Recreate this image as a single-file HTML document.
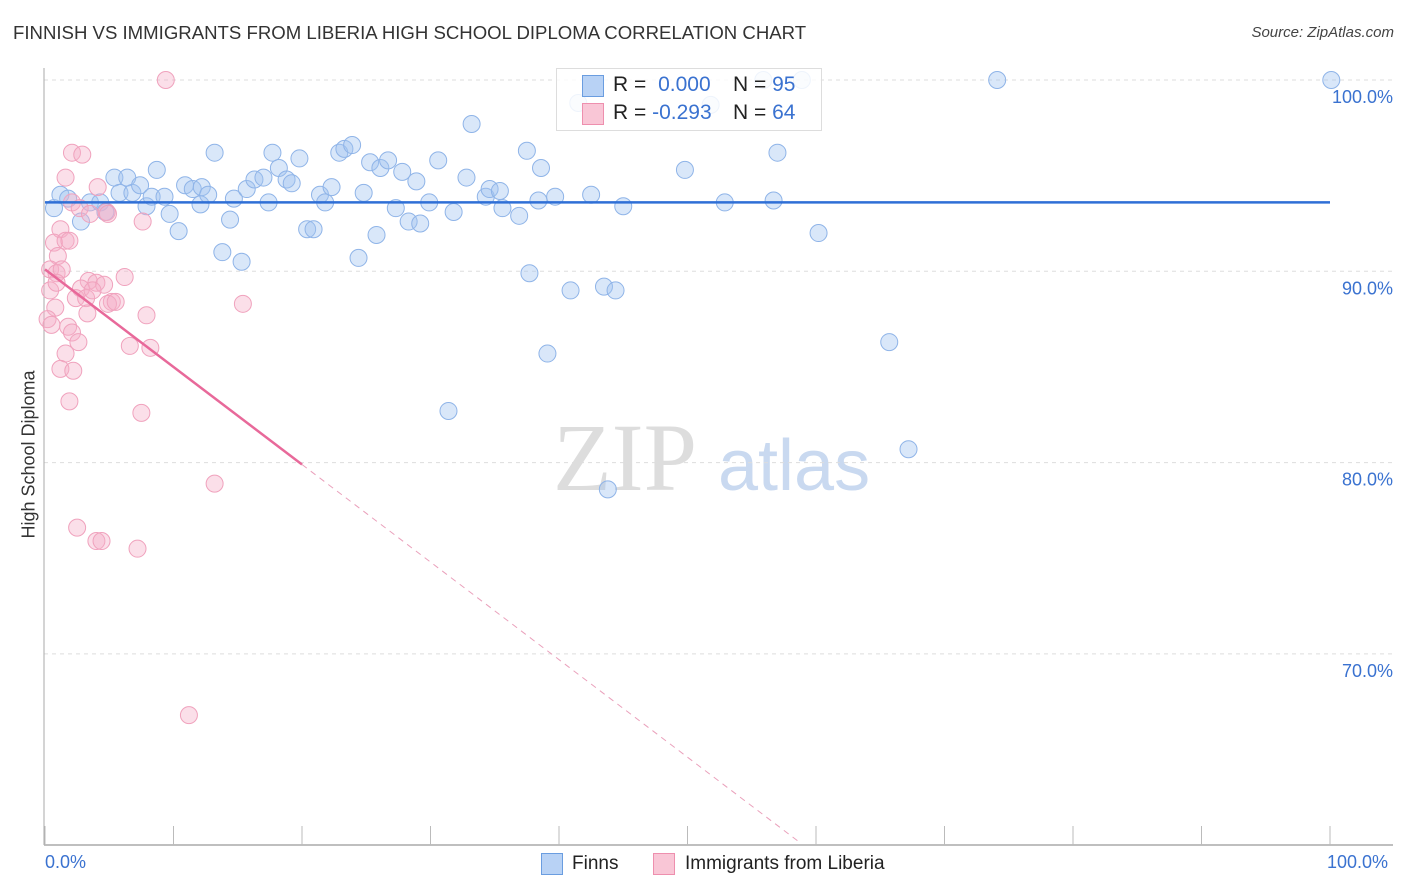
<!DOCTYPE html>
<html><head><meta charset="utf-8"><style>
body{margin:0;background:#fff;font-family:"Liberation Sans",sans-serif;}
#wrap{position:relative;width:1406px;height:892px;overflow:hidden;}
.t{position:absolute;white-space:nowrap;}
</style></head><body>
<div id="wrap">
<div class="t" style="left:13px;top:22px;font-size:18.6px;color:#333;">FINNISH VS IMMIGRANTS FROM LIBERIA HIGH SCHOOL DIPLOMA CORRELATION CHART</div>
<div class="t" style="right:12px;top:24px;font-size:15px;color:#444;font-style:italic;">Source: ZipAtlas.com</div>
<svg id="plot" width="1406" height="892" style="position:absolute;left:0;top:0">
<text x="553" y="490" font-family="Liberation Serif,serif" font-size="96" fill="#ddd">ZIP</text>
<text x="718" y="490" font-family="Liberation Sans,sans-serif" font-size="72" fill="#c9d9f0">atlas</text>
</svg>
<div style="position:absolute;left:556px;top:68px;width:264px;height:61px;border:1px solid #ddd;background:rgba(255,255,255,0.85);"></div>
<div style="position:absolute;left:582px;top:75px;width:20px;height:20px;background:#b8d2f5;border:1px solid #6a9de0;"></div>
<div style="position:absolute;left:582px;top:103px;width:20px;height:20px;background:#f9c6d6;border:1px solid #ee8fae;"></div>
<div class="t" style="left:613px;top:73px;font-size:21px;color:#222;">R = <span style="color:#3a72d0;margin-left:6px">0.000</span></div>
<div class="t" style="left:733px;top:73px;font-size:21px;color:#222;">N = <span style="color:#3a72d0">95</span></div>
<div class="t" style="left:613px;top:101px;font-size:21px;color:#222;">R = <span style="color:#3a72d0">-0.293</span></div>
<div class="t" style="left:733px;top:101px;font-size:21px;color:#222;">N = <span style="color:#3a72d0">64</span></div>
<div class="t" style="left:-55px;top:444px;font-size:18px;color:#333;transform:rotate(-90deg);">High School Diploma</div>
<div class="t" style="left:45px;top:852px;font-size:18px;color:#3a72d0;">0.0%</div>
<div class="t" style="left:1327px;top:852px;font-size:18px;color:#3a72d0;">100.0%</div>
<div style="position:absolute;left:541px;top:853px;width:20px;height:20px;background:#b8d2f5;border:1px solid #6a9de0;"></div>
<div class="t" style="left:572px;top:853px;font-size:19px;color:#222;">Finns</div>
<div style="position:absolute;left:653px;top:853px;width:20px;height:20px;background:#f9c6d6;border:1px solid #ee8fae;"></div>
<div class="t" style="left:685px;top:853px;font-size:19px;color:#222;">Immigrants from Liberia</div>
</div>
<script>
const yTicks=[100,90,80,70];
const yTickLabels=["100.0%","90.0%","80.0%","70.0%"];
const xTicks=[0,10,20,30,40,50,60,70,80,90,100];
const finnsX=[0.7,1.2,1.8,2.8,3.5,4.3,4.7,5.4,5.8,6.4,6.8,7.4,7.9,8.3,8.7,9.3,9.7,10.4,10.9,11.5,12.1,12.2,12.7,13.2,13.8,14.4,14.7,15.3,15.7,16.3,17.0,17.4,17.7,18.2,18.8,19.2,19.8,20.4,20.9,21.4,21.8,22.3,22.9,23.3,23.9,24.4,24.8,25.3,26.1,26.7,25.8,27.3,27.8,28.3,28.9,29.2,29.9,30.6,31.4,31.8,32.8,33.2,34.3,34.6,35.4,35.6,36.9,37.5,37.7,38.4,38.6,39.1,39.7,40.9,41.5,42.5,43.5,43.8,44.4,45.0,49.8,51.8,52.9,55.9,56.7,57.0,58.9,60.2,65.7,67.2,74.1,100.1];
const finnsY=[93.3,94.0,93.8,92.6,93.6,93.6,93.1,94.9,94.1,94.9,94.1,94.5,93.4,93.9,95.3,93.9,93.0,92.1,94.5,94.3,93.5,94.4,94.0,96.2,91.0,92.7,93.8,90.5,94.3,94.8,94.9,93.6,96.2,95.4,94.8,94.6,95.9,92.2,92.2,94.0,93.6,94.4,96.2,96.4,96.6,90.7,94.1,95.7,95.4,95.8,91.9,93.3,95.2,92.6,94.7,92.5,93.6,95.8,82.7,93.1,94.9,97.7,93.9,94.3,94.2,93.3,92.9,96.3,89.9,93.7,95.4,85.7,93.9,89.0,98.8,94.0,89.2,78.6,89.0,93.4,95.3,98.7,93.6,100,93.7,96.2,100,92.0,86.3,80.7,100,100];
const libX=[9.4,2.1,2.9,1.6,4.1,2.1,2.7,3.5,4.8,7.6,1.2,0.7,1.6,1.9,1.0,0.4,0.9,1.3,3.4,4.0,6.2,4.6,2.8,2.4,3.2,3.7,5.2,4.9,5.5,15.4,0.8,3.3,0.2,0.5,1.8,7.9,2.1,2.6,1.6,6.6,8.2,1.2,2.2,1.9,7.5,13.2,2.5,4.0,4.4,7.2,11.2,0.4,0.9,4.9];
const libY=[100,96.2,96.1,94.9,94.4,93.6,93.3,93.0,93.1,92.6,92.2,91.5,91.6,91.6,90.8,90.1,89.9,90.1,89.5,89.4,89.7,89.3,89.1,88.6,88.6,89.0,88.4,88.3,88.4,88.3,88.1,87.8,87.5,87.2,87.1,87.7,86.8,86.3,85.7,86.1,86.0,84.9,84.8,83.2,82.6,78.9,76.6,75.9,75.9,75.5,66.8,89.0,89.4,93.0];
const finnsFit=[93.6,93.6];
const libFit=[90.1,-0.51];
const svg=document.getElementById('plot');
const NS='http://www.w3.org/2000/svg';
const X0=45,X1=1330,Y100=80,PPU=19.13;
function xs(v){return X0+(X1-X0)*v/100;}
function ys(v){return Y100+(100-v)*PPU;}
function mk(tag,attrs){const e=document.createElementNS(NS,tag);for(const k in attrs)e.setAttribute(k,attrs[k]);svg.appendChild(e);return e;}
yTicks.forEach((t,i)=>{
 const g=mk('line',{x1:44,x2:1393,y1:ys(t),y2:ys(t),stroke:'#ddd','stroke-dasharray':'4,4'});
 
 
 const l=mk('text',{x:1393,y:ys(t)+23,'text-anchor':'end','font-size':18,fill:'#3a72d0','font-family':'Liberation Sans,sans-serif'});
 l.textContent=yTickLabels[i];
 
 
});
const ax=mk('line',{x1:44,x2:1393,y1:845,y2:845,stroke:'#aaa','stroke-width':1.5});


const ay=mk('line',{x1:44,x2:44,y1:68,y2:845,stroke:'#aaa','stroke-width':1});


xTicks.forEach(t=>{
 const k=mk('line',{x1:xs(t),x2:xs(t),y1:826,y2:845,stroke:'#bbb'});
 
 
});
finnsX.forEach((x,i)=>{
 const c=mk('circle',{cx:xs(x),cy:ys(finnsY[i]),r:8.5,fill:'rgba(160,195,240,0.4)',stroke:'#8fb4e8','stroke-width':1});
 
 
});
libX.forEach((x,i)=>{
 const c=mk('circle',{cx:xs(x),cy:ys(libY[i]),r:8.5,fill:'rgba(246,175,200,0.4)',stroke:'#f0a2bd','stroke-width':1});
 
 
});
const bl=mk('line',{x1:xs(0),x2:xs(100),y1:ys(finnsFit[0]),y2:ys(finnsFit[1]),stroke:'#2f6fd6','stroke-width':2.5});


const f=x=>libFit[0]+libFit[1]*x;
const pl=mk('line',{x1:xs(0),x2:xs(20),y1:ys(f(0)),y2:ys(f(20)),stroke:'#e8699a','stroke-width':2.5});


const xe=(60.2-libFit[0])/libFit[1];
const pd=mk('line',{x1:xs(20),x2:xs(xe),y1:ys(f(20)),y2:ys(f(xe)),stroke:'#eaa0bb','stroke-width':1,'stroke-dasharray':'6,5'});


</script>
</body></html>
